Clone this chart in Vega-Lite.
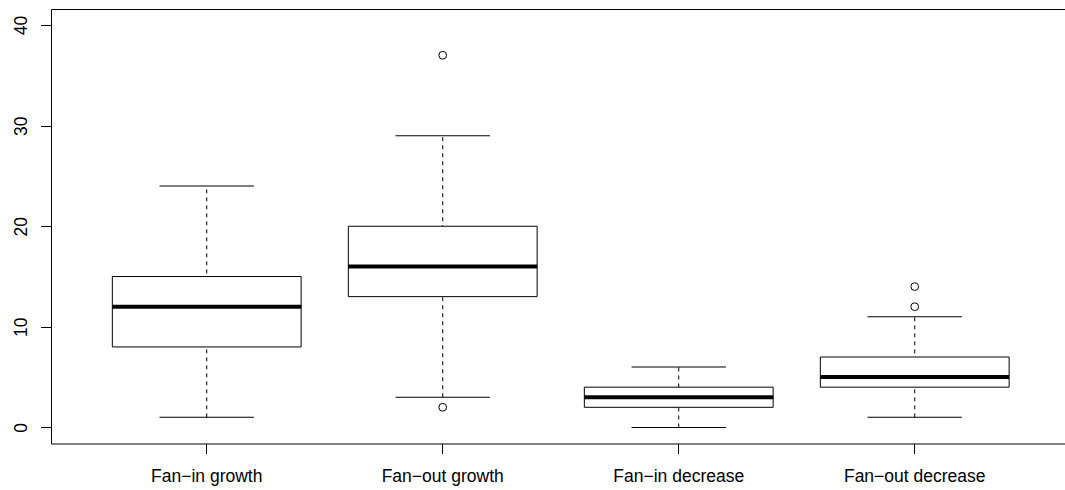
{
  "$schema": "https://vega.github.io/schema/vega-lite/v6.json",
  "autosize": {"type": "none"},
  "width": 1014,
  "height": 434.5,
  "padding": {"left": 51, "top": 9, "right": 0, "bottom": 46.5},
  "background": "white",
  "datasets": {
    "boxes": [
      {"group": "Fan−in growth", "lower": 1, "q1": 8, "median": 12, "q3": 15, "upper": 24},
      {"group": "Fan−out growth", "lower": 3, "q1": 13, "median": 16, "q3": 20, "upper": 29},
      {"group": "Fan−in decrease", "lower": 0, "q1": 2, "median": 3, "q3": 4, "upper": 6},
      {"group": "Fan−out decrease", "lower": 1, "q1": 4, "median": 5, "q3": 7, "upper": 11}
    ],
    "outliers": [
      {"group": "Fan−out growth", "value": 37},
      {"group": "Fan−out growth", "value": 2},
      {"group": "Fan−out decrease", "value": 14},
      {"group": "Fan−out decrease", "value": 12}
    ]
  },
  "config": {
    "view": {"stroke": null},
    "axis": {
      "grid": false,
      "domainColor": "black",
      "tickColor": "black",
      "labelColor": "black",
      "labelFont": "Liberation Sans",
      "labelFontSize": 17.5,
      "title": null
    }
  },
  "resolve": {"axis": {"x": "independent"}},
  "layer": [
    {
      "data": {"name": "boxes"},
      "encoding": {
        "x": {
          "field": "group",
          "type": "nominal",
          "sort": null,
          "scale": {
            "type": "band",
            "domain": ["Fan−in growth", "Fan−out growth", "Fan−in decrease", "Fan−out decrease"],
            "paddingInner": 0,
            "paddingOuter": 0.1483,
            "align": 0.539
          },
          "axis": {
            "orient": "bottom",
            "labelAngle": 0,
            "tickSize": 10,
            "labelPadding": 28,
            "labelBaseline": "alphabetic",
            "title": null
          }
        }
      },
      "layer": [
        {
          "mark": {"type": "rule", "color": "black", "strokeWidth": 1, "strokeDash": [4, 4]},
          "encoding": {
            "y": {
              "field": "lower",
              "type": "quantitative",
              "scale": {"domain": [-1.6, 41.6], "nice": false, "zero": false},
              "axis": {
                "values": [0, 10, 20, 30, 40],
                "labelAngle": 270,
                "labelAlign": "center",
                "labelBaseline": "alphabetic",
                "tickSize": 10.5,
                "labelPadding": 14,
                "title": null
              }
            },
            "y2": {"field": "upper"}
          }
        },
        {
          "mark": {"type": "tick", "color": "black", "opacity": 1, "size": 94.4, "thickness": 1},
          "encoding": {"y": {"field": "upper", "type": "quantitative"}}
        },
        {
          "mark": {"type": "tick", "color": "black", "opacity": 1, "size": 94.4, "thickness": 1},
          "encoding": {"y": {"field": "lower", "type": "quantitative"}}
        },
        {
          "mark": {"type": "bar", "fill": "white", "stroke": "black", "strokeWidth": 1, "width": {"band": 0.8}},
          "encoding": {
            "y": {"field": "q1", "type": "quantitative"},
            "y2": {"field": "q3"}
          }
        },
        {
          "mark": {"type": "tick", "color": "black", "opacity": 1, "size": 188.8, "thickness": 4},
          "encoding": {"y": {"field": "median", "type": "quantitative"}}
        }
      ]
    },
    {
      "data": {"name": "outliers"},
      "mark": {"type": "point", "shape": "circle", "filled": false, "size": 60, "stroke": "black", "strokeWidth": 1, "opacity": 1},
      "encoding": {
        "x": {
          "field": "group",
          "type": "nominal",
          "sort": null,
          "axis": {"orient": "top", "labels": false, "ticks": false, "domain": true, "title": null}
        },
        "y": {"field": "value", "type": "quantitative"}
      }
    }
  ]
}
